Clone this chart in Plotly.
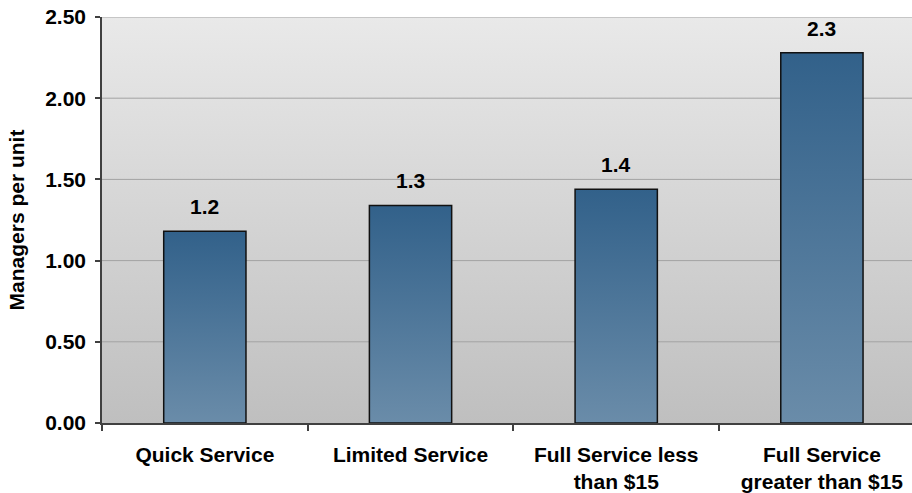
import plotly.graph_objects as go

# Managers per restaurant unit by service segment
categories = ["Quick Service", "Limited Service", "Full Service less<br>than $15",
              "Full Service<br>greater than $15"]
managers_per_unit = [1.18, 1.34, 1.44, 2.28]
y_ticks = [0.0, 0.5, 1.0, 1.5, 2.0, 2.5]
y_tick_labels = ["0.00", "0.50", "1.00", "1.50", "2.00", "2.50"]

FONT = "Liberation Sans, Arial, sans-serif"
BAR_HALF = 0.2
BAR_TOP = "#32618A"
BAR_BOTTOM = "#6A8CA9"
BG_TOP = "#E9E9E9"
BG_BOTTOM = "#BFBFBF"
AXIS_COLOR = "#404040"

x_lo, x_hi = -0.5, 3.438
fig = go.Figure()

# Plot-area background with a vertical grey gradient
fig.add_trace(go.Scatter(
    x=[-0.5, len(categories) - 0.5, len(categories) - 0.5, -0.5, -0.5],
    y=[0, 0, y_ticks[-1], y_ticks[-1], 0],
    mode="lines", line=dict(width=0), fill="toself",
    fillgradient=dict(type="vertical", colorscale=[[0, BG_BOTTOM], [1, BG_TOP]]),
    hoverinfo="skip", showlegend=False,
))

# Horizontal gridlines
gx, gy = [], []
for t in y_ticks[1:]:
    gx += [-0.5, len(categories) - 0.5, None]
    gy += [t, t, None]
fig.add_trace(go.Scatter(x=gx, y=gy, mode="lines",
                         line=dict(color="#A3A3A3", width=1),
                         hoverinfo="skip", showlegend=False))

# Bars drawn as filled rectangles so each one carries its own gradient
for i, (cat, v) in enumerate(zip(categories, managers_per_unit)):
    fig.add_trace(go.Scatter(
        x=[i - BAR_HALF, i + BAR_HALF, i + BAR_HALF, i - BAR_HALF, i - BAR_HALF],
        y=[0, 0, v, v, 0],
        mode="lines", line=dict(color="#111111", width=1.5), fill="toself",
        fillgradient=dict(type="vertical", colorscale=[[0, BAR_BOTTOM], [1, BAR_TOP]]),
        name=cat.replace("<br>", " "), showlegend=False,
        hovertemplate=f"{cat.replace('<br>', ' ')}: {v:.2f}<extra></extra>",
    ))
    fig.add_annotation(x=i, y=v, text=f"{v:.1f}", showarrow=False,
                       yanchor="bottom", yshift=11,
                       font=dict(family=FONT, size=21, color="#000000", weight="bold"))

fig.update_layout(
    width=912, height=493,
    margin=dict(l=102, r=0, t=17, b=70),
    paper_bgcolor="white", plot_bgcolor=BG_BOTTOM,
    font=dict(family=FONT, size=21, color="#000000", weight="bold"),
    showlegend=False,
)
fig.update_xaxes(
    range=[x_lo, x_hi], tickmode="array", automargin=False,
    tickvals=list(range(len(categories))), ticktext=categories,
    ticks="", showgrid=False, zeroline=False,
    showline=True, linecolor=AXIS_COLOR, linewidth=1.5,
    ticklabelstandoff=12,
    minor=dict(tickmode="array", tickvals=[k - 0.5 for k in range(len(categories) + 1)],
               ticks="outside", ticklen=6, tickcolor=AXIS_COLOR, tickwidth=1.5,
               showgrid=False),
    tickfont=dict(family=FONT, size=21, color="#000000", weight="bold"),
)
fig.update_yaxes(
    range=[0, 2.5], tickmode="array", tickvals=y_ticks, ticktext=y_tick_labels,
    automargin=False,
    ticks="outside", ticklen=5, tickcolor=AXIS_COLOR, tickwidth=1.5,
    ticklabelstandoff=5,
    showgrid=False, zeroline=False,
    showline=True, linecolor=AXIS_COLOR, linewidth=1.5,
    title=dict(text="Managers per unit", standoff=15,
               font=dict(family=FONT, size=21, color="#000000", weight="bold")),
    tickfont=dict(family=FONT, size=21, color="#000000", weight="bold"),
)

fig.write_html("out.html")
